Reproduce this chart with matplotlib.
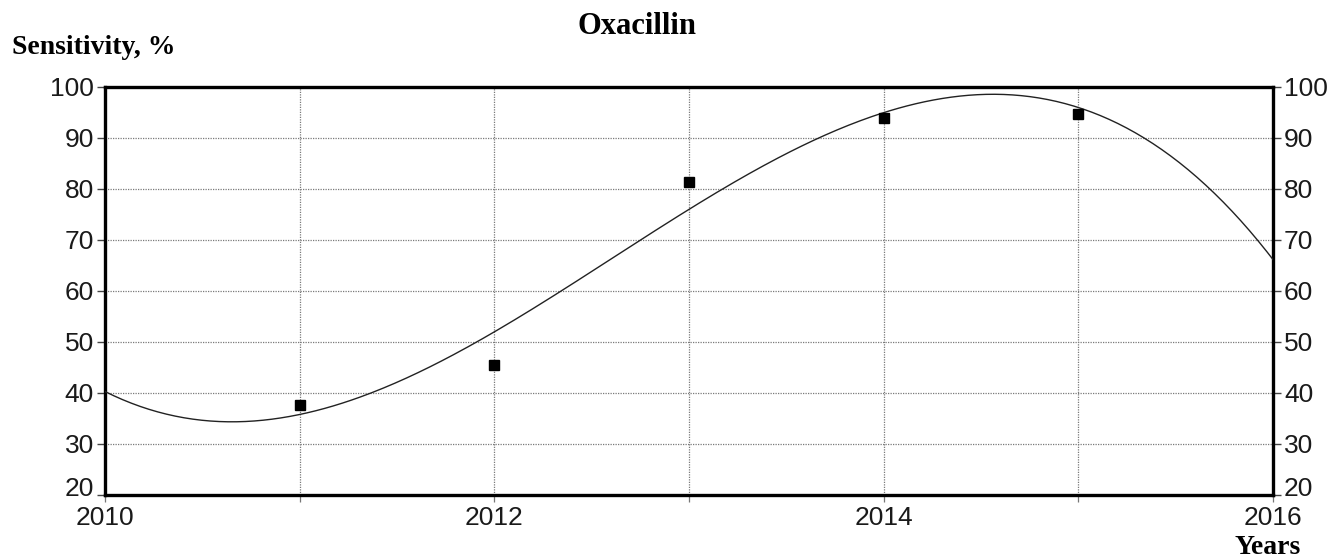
import numpy as np
import matplotlib
matplotlib.use("Agg")
import matplotlib.pyplot as plt
import matplotlib.transforms as mtransforms
from matplotlib.ticker import MultipleLocator

# Observed sensitivity by year
years = [2011, 2012, 2013, 2014, 2015]
sensitivity = [37.7, 45.4, 81.3, 94.0, 94.8]

# Trend line values at whole years (cubic trend)
trend_years = [2010, 2011, 2012, 2013, 2014, 2015, 2016]
trend_values = [40.3, 35.8, 51.9, 76.1, 95.0, 95.9, 66.2]

y_ticks = [20, 30, 40, 50, 60, 70, 80, 90, 100]
x_ticks = [2010, 2012, 2014, 2016]

sans = "Liberation Sans"
serif = "Liberation Serif"

fig = plt.figure(figsize=(13.32, 5.6), dpi=100)
ax = fig.add_axes([105 / 1332, 1 - 495 / 560, (1273 - 105) / 1332, (495 - 87) / 560])

# cubic trend through the whole-year values
t0 = 2010
coef = np.polyfit(np.array(trend_years) - t0, trend_values, 3)
xs = np.linspace(2010, 2016, 400)
ax.plot(xs, np.polyval(coef, xs - t0), color="#222222", lw=1.0, zorder=3)

ax.plot(years, sensitivity, linestyle="none", marker="s", markersize=6.8,
        color="black", zorder=4)

ax.set_xlim(2010, 2016)
ax.set_ylim(20, 100)
ax.set_xticks(x_ticks)
ax.xaxis.set_minor_locator(MultipleLocator(1))
ax.set_yticks(y_ticks)

ax.grid(True, which="both", axis="x", color="#7a7a7a", linestyle=(0, (1, 1)), lw=0.9)
ax.grid(True, which="major", axis="y", color="#7a7a7a", linestyle=(0, (1, 1)), lw=0.9)

for s in ax.spines.values():
    s.set_linewidth(2.4)
    s.set_color("black")

ax.tick_params(axis="y", which="major", left=True, right=True, labelleft=True,
               labelright=True, direction="out", length=6, width=1,
               color="#444444", labelsize=19, labelcolor="#1a1a1a", pad=2)
ax.tick_params(axis="x", which="both", direction="out", length=5, width=0.9,
               color="#777777", labelsize=19, labelcolor="#1a1a1a", pad=3)
ax.tick_params(axis="x", which="minor", labelbottom=False)

for lbl in ax.get_xticklabels() + ax.get_yticklabels():
    lbl.set_family(sans)

# lift the lowest y labels so they clear the year labels
lift = mtransforms.ScaledTranslation(0, 8 / 100, fig.dpi_scale_trans)
first = ax.yaxis.get_major_ticks()[0]
for lbl in (first.label1, first.label2):
    lbl.set_transform(lbl.get_transform() + lift)

fig.text(637 / 1332, 1 - 27 / 560, "Oxacillin", ha="center", va="center",
         fontsize=22, fontweight="bold", family=serif)
fig.text(12 / 1332, 1 - 48 / 560, "Sensitivity, %", ha="left", va="center",
         fontsize=20, fontweight="bold", family=serif)
fig.text(1268 / 1332, 1 - 547 / 560, "Years", ha="center", va="center",
         fontsize=20, fontweight="bold", family=serif)

fig.savefig("out.png", dpi=100)
